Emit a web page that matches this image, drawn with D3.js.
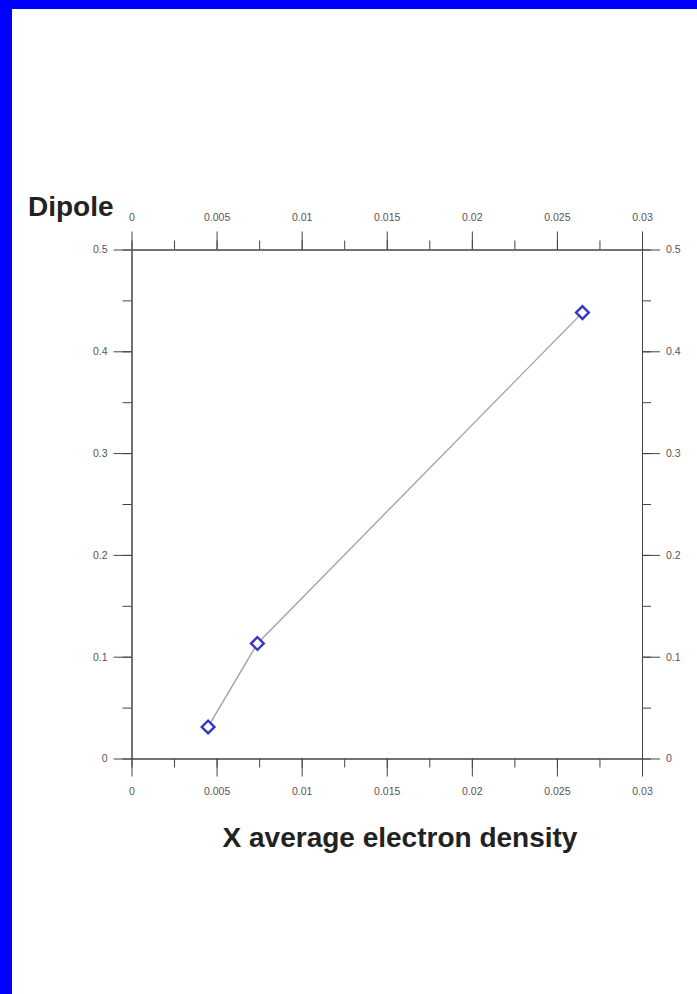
<!DOCTYPE html>
<html lang="en">
<head>
    <meta charset="UTF-8">
    <style>
        body { margin: 0; background: #0000ff; }
        svg { display: block; }
        .tick text {
            font: 10.5px "Liberation Sans Narrow", "Liberation Sans", Arial, sans-serif;
            fill: #555;
        }
        .axis path, .axis line { stroke: #444; }
        .title {
            font: bold 28px "Liberation Sans", Arial, sans-serif;
            fill: #222;
        }
    </style>
    <script src="https://d3js.org/d3.v7.min.js"></script>
    <title>Dipole vs X average electron density</title>
</head>
<body>
    <svg width="697" height="994"></svg>
    <script>

        // data
        var density = [0.0045, 0.0074, 0.0265];
        var dipole = [0.031, 0.113, 0.438];
        var xTicks = [0, 0.005, 0.01, 0.015, 0.02, 0.025, 0.03];
        var yTicks = [0, 0.1, 0.2, 0.3, 0.4, 0.5];
        var xLabels = ["0", "0.005", "0.01", "0.015", "0.02", "0.025", "0.03"];
        var yLabels = ["0", "0.1", "0.2", "0.3", "0.4", "0.5"];

        var svg = d3.select("svg");

        // white page inside the blue frame
        svg.append("rect")
           .attr("x", 12).attr("y", 9)
           .attr("width", 697 - 12).attr("height", 994 - 9)
           .attr("fill", "#fff");

        var plotLeft = 131.5, plotRight = 642, plotTop = 249.5, plotBottom = 758.5;

        var x = d3.scaleLinear().domain([0, 0.03]).range([plotLeft, plotRight]);
        var y = d3.scaleLinear().domain([0, 0.5]).range([plotBottom, plotTop]);

        var major = 18, minor = 9;

        function xFmt(d) { return xLabels[xTicks.indexOf(d)]; }
        function yFmt(d) { return yLabels[yTicks.indexOf(d)]; }

        var xMinor = d3.range(0, 0.0301, 0.0025);
        var yMinor = d3.range(0, 0.501, 0.05);

        // minor ticks first, then major axes with labels
        svg.append("g").attr("class", "axis")
           .attr("transform", "translate(0," + plotBottom + ")")
           .call(d3.axisBottom(x).tickValues(xMinor).tickSize(minor).tickSizeOuter(0).tickFormat(""));
        svg.append("g").attr("class", "axis")
           .attr("transform", "translate(0," + plotTop + ")")
           .call(d3.axisTop(x).tickValues(xMinor).tickSize(minor).tickSizeOuter(0).tickFormat(""));
        svg.append("g").attr("class", "axis")
           .attr("transform", "translate(" + plotLeft + ",0)")
           .call(d3.axisLeft(y).tickValues(yMinor).tickSize(minor).tickSizeOuter(0).tickFormat(""));
        svg.append("g").attr("class", "axis")
           .attr("transform", "translate(" + plotRight + ",0)")
           .call(d3.axisRight(y).tickValues(yMinor).tickSize(minor).tickSizeOuter(0).tickFormat(""));

        svg.append("g").attr("class", "axis")
           .attr("transform", "translate(0," + plotBottom + ")")
           .call(d3.axisBottom(x).tickValues(xTicks).tickSize(major).tickSizeOuter(0)
                 .tickPadding(11).tickFormat(xFmt));
        svg.append("g").attr("class", "axis")
           .attr("transform", "translate(0," + plotTop + ")")
           .call(d3.axisTop(x).tickValues(xTicks).tickSize(major).tickSizeOuter(0)
                 .tickPadding(11).tickFormat(xFmt));
        svg.append("g").attr("class", "axis")
           .attr("transform", "translate(" + plotLeft + ",0)")
           .call(d3.axisLeft(y).tickValues(yTicks).tickSize(major).tickSizeOuter(0)
                 .tickPadding(6).tickFormat(yFmt));
        svg.append("g").attr("class", "axis")
           .attr("transform", "translate(" + plotRight + ",0)")
           .call(d3.axisRight(y).tickValues(yTicks).tickSize(major).tickSizeOuter(0)
                 .tickPadding(6).tickFormat(yFmt));

        // connecting line
        var pts = density.map(function(d, i) { return [d, dipole[i]]; });
        svg.append("path")
           .datum(pts)
           .attr("fill", "none")
           .attr("stroke", "#a0a0a0")
           .attr("stroke-width", 1.3)
           .attr("d", d3.line()
               .x(function(d) { return x(d[0]); })
               .y(function(d) { return y(d[1]); }));

        // diamond markers
        svg.selectAll(".pt")
           .data(pts)
           .enter().append("path")
           .attr("class", "pt")
           .attr("transform", function(d) {
                return "translate(" + x(d[0]) + "," + y(d[1]) + ") rotate(45)";
           })
           .attr("d", "M-4.5,-4.5H4.5V4.5H-4.5Z")
           .attr("fill", "#fff")
           .attr("stroke", "#3535cc")
           .attr("stroke-width", 2.4);

        // titles
        svg.append("text").attr("class", "title")
           .attr("x", 28).attr("y", 216)
           .text("Dipole");
        svg.append("text").attr("class", "title")
           .attr("x", 400).attr("y", 847)
           .attr("text-anchor", "middle")
           .text("X average electron density");

    </script>
</body>
</html>
